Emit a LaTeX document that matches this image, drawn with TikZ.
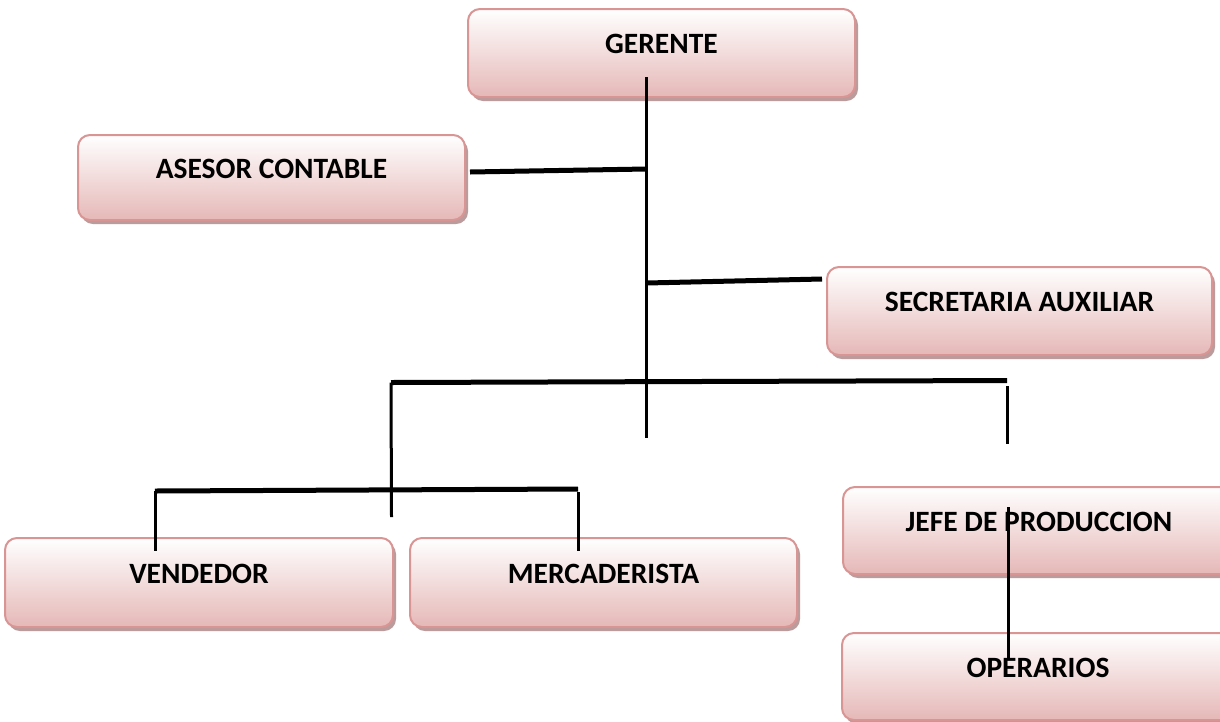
\documentclass[tikz,border=0pt]{standalone}
\usepackage{fontspec}
\setmainfont{Carlito}
\usetikzlibrary{shadows}
\definecolor{boxborder}{HTML}{D99594}
\definecolor{boxbottom}{HTML}{E5B8B7}
\definecolor{boxshadow}{HTML}{B08A8A}
\tikzset{
  orgbox/.style={draw=boxborder, line width=2pt, rounded corners=12pt,
    top color=white, bottom color=boxbottom,
    drop shadow={shadow xshift=3pt, shadow yshift=-4pt, fill=boxshadow, opacity=0.85},
    font=\fontsize{29.5}{34}\selectfont\bfseries,
    text height=19pt, text depth=18pt, inner sep=0pt},
  thickline/.style={line width=5pt},
  thinline/.style={line width=3pt}
}
\begin{document}
\begin{tikzpicture}[x=1pt,y=-1pt]
\clip (0,0) rectangle (1220,721);
\fill[white] (0,0) rectangle (1220,721);
\node[orgbox, minimum width=387pt, minimum height=88pt] (ger) at (661.5,53) {GERENTE};
\node[orgbox, minimum width=387pt, minimum height=85pt] (ase) at (271.5,177.5) {ASESOR CONTABLE};
\node[orgbox, minimum width=385pt, minimum height=88pt] (sec) at (1019.5,311) {SECRETARIA AUXILIAR};
\node[orgbox, minimum width=388pt, minimum height=89pt] (ven) at (199,582.5) {VENDEDOR};
\node[orgbox, minimum width=387pt, minimum height=89pt] (mer) at (603.5,582.5) {MERCADERISTA};
\node[orgbox, minimum width=392pt, minimum height=87pt] (jef) at (1039,530.5) {JEFE DE PRODUCCION};
\node[orgbox, minimum width=392pt, minimum height=87pt] (ope) at (1038,676.5) {OPERARIOS};
% junction coordinates
\coordinate (g0) at (646.5,77);
\coordinate (g1) at (646.5,438);
\coordinate (a0) at (470,172);
\coordinate (a1) at (646.5,169);
\coordinate (s0) at (646.5,283);
\coordinate (s1) at (822,279);
\coordinate (b0) at (391,382.5);
\coordinate (b1) at (1007,380.5);
\coordinate (bl) at (391.5,517);
\coordinate (r0) at (1007,386);
\coordinate (r1) at (1007,444);
\coordinate (c0) at (155,491);
\coordinate (c1) at (578,489);
\coordinate (v1) at (155,551);
\coordinate (m0) at (578,492);
\coordinate (m1) at (578,551);
\coordinate (j0) at (1008,507);
\coordinate (j1) at (1008,660);
% connectors
\draw[thinline] (g0) -- (g1);
\draw[thickline] (a0) -- (a1);
\draw[thickline] (s0) -- (s1);
\draw[thickline] (b0) -- (b1);
\draw[thinline] (b0) -- (bl);
\draw[thinline] (r0) -- (r1);
\draw[thickline] (c0) -- (c1);
\draw[thinline] (c0) -- (v1);
\draw[thinline] (m0) -- (m1);
\draw[thinline] (j0) -- (j1);
\end{tikzpicture}
\end{document}
